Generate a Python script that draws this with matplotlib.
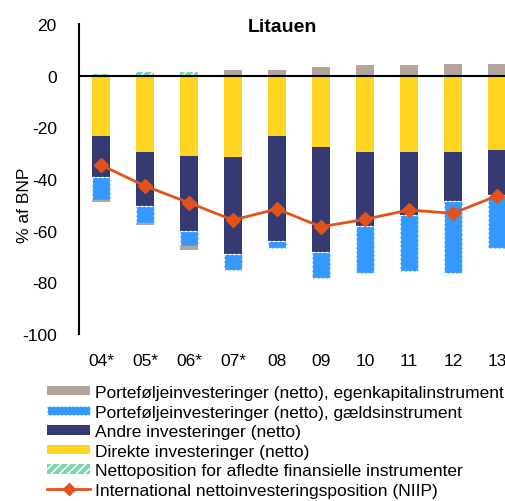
import numpy as np
import matplotlib
matplotlib.use("Agg")
import matplotlib.pyplot as plt
from matplotlib.patches import Patch
from matplotlib.lines import Line2D

plt.rcParams['font.family'] = ['Liberation Sans', 'DejaVu Sans']
plt.rcParams['axes.unicode_minus'] = False

years = ["04*", "05*", "06*", "07*", "08", "09", "10", "11", "12", "13"]
direkte = [-23.2, -29.7, -31.0, -31.6, -23.2, -27.7, -29.7, -29.7, -29.7, -28.9]
andre = [-15.9, -20.7, -29.3, -37.5, -40.7, -40.7, -28.6, -24.1, -18.9, -17.2]
gaeld = [-8.9, -6.5, -5.5, -6.0, -2.9, -9.9, -18.1, -21.9, -27.8, -20.7]
egenkap = [-1.0, -1.0, -1.7, 2.1, 2.1, 3.4, 4.1, 4.1, 4.6, 4.6]
derivat = [0.6, 1.3, 1.3, 0.0, 0.0, 0.0, 0.0, 0.0, 0.0, 0.0]
niip = [-34.6, -42.7, -49.2, -55.9, -51.6, -58.5, -55.6, -52.0, -53.3, -46.5]

c_gray = "#b3a59e"
c_blue = "#3399ff"
c_navy = "#363a73"
c_yellow = "#ffd522"
c_green = "#7fd3ae"
c_orange = "#e4521b"

W, H = 505, 502
fig = plt.figure(figsize=(W / 100, H / 100), dpi=100)
# axes run past the right edge, like the cropped original
ax = fig.add_axes([79 / W, (H - 335) / H, 440 / W, 310 / H])

x = np.arange(len(years))
bw = 0.41
pos = np.zeros(len(years))
neg = np.zeros(len(years))

def stack(vals, **kw):
    global pos, neg
    v = np.array(vals)
    bottom = np.where(v >= 0, pos, neg)
    ax.bar(x, v, bw, bottom=bottom, **kw)
    pos = pos + np.where(v > 0, v, 0)
    neg = neg + np.where(v < 0, v, 0)

stack(direkte, color=c_yellow, linewidth=0)
stack(andre, color=c_navy, linewidth=0)
stack(gaeld, color=c_blue, edgecolor="white", linewidth=0.9, linestyle=(0, (2, 1.5)))
stack(egenkap, color=c_gray, linewidth=0)
stack(derivat, color=c_green, edgecolor="white", hatch="////", linewidth=0)

ax.axhline(0, color="black", lw=1.5, zorder=3)
ax.plot(x, niip, color=c_orange, lw=2, marker="D", ms=7, zorder=4)

ax.set_xlim(-0.5, 9.5)
ax.set_ylim(-100, 20)
ax.set_yticks(range(-100, 21, 20))
ax.set_xticks(x)
ax.set_xticklabels(years)
ax.tick_params(length=0, labelsize=12.5, pad=16)
ax.tick_params(axis="x", pad=14)
for s in ["top", "right", "bottom"]:
    ax.spines[s].set_visible(False)
ax.spines["left"].set_linewidth(1.5)

fig.text(25 / W, 1 - 205 / H, "% af BNP", rotation=90, ha="center", va="center", fontsize=12.5)
fig.text(282 / W, 1 - 27 / H, "Litauen", ha="center", va="center", fontsize=14, fontweight="bold")

handles = [
    Patch(facecolor=c_gray, linewidth=0),
    Patch(facecolor=c_blue, edgecolor="white", linestyle=(0, (2, 1.5)), linewidth=0.8),
    Patch(facecolor=c_navy, linewidth=0),
    Patch(facecolor=c_yellow, linewidth=0),
    Patch(facecolor=c_green, edgecolor="white", hatch="////", linewidth=0),
    Line2D([0], [0], color=c_orange, lw=2, marker="D", ms=6),
]
labels = [
    "Porteføljeinvesteringer (netto), egenkapitalinstrument",
    "Porteføljeinvesteringer (netto), gældsinstrument",
    "Andre investeringer (netto)",
    "Direkte investeringer (netto)",
    "Nettoposition for afledte finansielle instrumenter",
    "International nettoinvesteringsposition (NIIP)",
]
fig.legend(handles, labels, loc="upper left", bbox_to_anchor=(47 / W, 1 - 386 / H),
           frameon=False, fontsize=12.5, handlelength=2.5, handleheight=0.45,
           handletextpad=0.25, labelspacing=0.26, borderpad=0, borderaxespad=0)

fig.savefig("out.png", dpi=100)
